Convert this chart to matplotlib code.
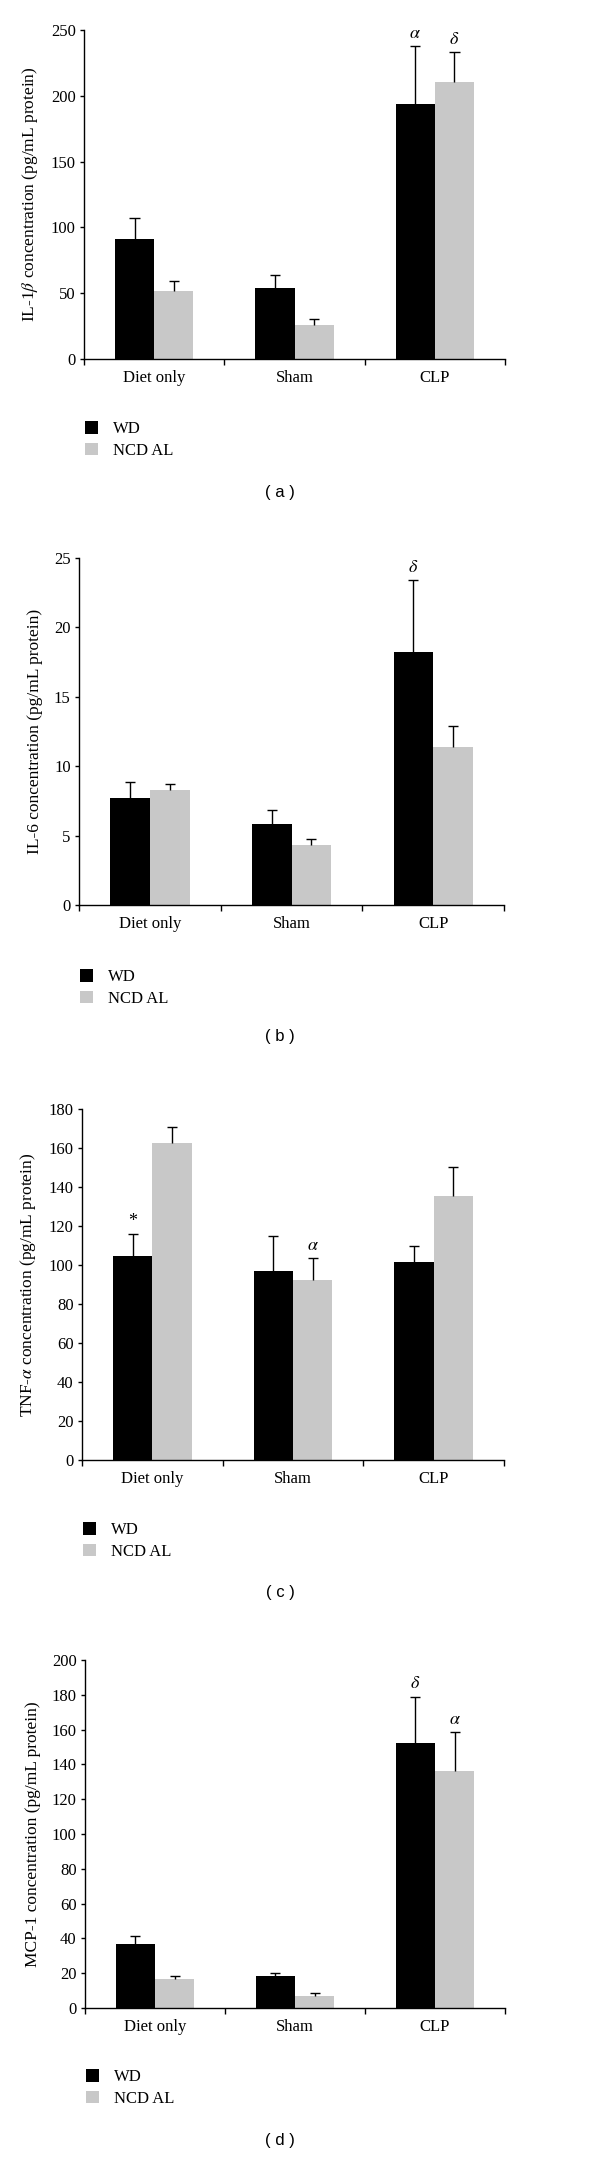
import matplotlib
matplotlib.use("Agg")
import matplotlib.pyplot as plt
import numpy as np

plt.rcParams['font.family'] = ['Liberation Serif', 'DejaVu Serif']
plt.rcParams['mathtext.fontset'] = 'stix'

groups = ["Diet only", "Sham", "CLP"]
series = ["WD", "NCD AL"]
colors = ["#000000", "#c8c8c8"]

# panel (a) IL-1beta
il1b_wd = [91, 54, 194]
il1b_wd_err = [16, 9.5, 44]
il1b_ncd = [51.5, 26, 210.5]
il1b_ncd_err = [7.5, 4.5, 23]

# panel (b) IL-6
il6_wd = [7.7, 5.85, 18.25]
il6_wd_err = [1.15, 0.98, 5.15]
il6_ncd = [8.25, 4.3, 11.4]
il6_ncd_err = [0.45, 0.46, 1.5]

# panel (c) TNF-alpha
tnf_wd = [104.5, 96.8, 101.3]
tnf_wd_err = [11.5, 18.2, 8.5]
tnf_ncd = [162.6, 92.2, 135.2]
tnf_ncd_err = [8.4, 11.5, 14.9]

# panel (d) MCP-1
mcp_wd = [36.8, 18.4, 152.5]
mcp_wd_err = [4.4, 1.8, 26.5]
mcp_ncd = [16.8, 7.1, 136.2]
mcp_ncd_err = [1.8, 1.3, 22.6]

panels = [
    dict(wd=il1b_wd, wde=il1b_wd_err, ncd=il1b_ncd, ncde=il1b_ncd_err,
         ymax=250, step=50, ylabel="IL-1$\\beta$ concentration (pg/mL protein)",
         marks=[(2, 0, "$\\alpha$"), (2, 1, "$\\delta$")],
         box=(84, 505, 30, 359), leg=417, cap="( a )", capy=492),
    dict(wd=il6_wd, wde=il6_wd_err, ncd=il6_ncd, ncde=il6_ncd_err,
         ymax=25, step=5, ylabel="IL-6 concentration (pg/mL protein)",
         marks=[(2, 0, "$\\delta$")],
         box=(79, 504, 14, 361), leg=421, cap="( b )", capy=493),
    dict(wd=tnf_wd, wde=tnf_wd_err, ncd=tnf_ncd, ncde=tnf_ncd_err,
         ymax=180, step=20, ylabel="TNF-$\\alpha$ concentration (pg/mL protein)",
         marks=[(0, 0, "*"), (1, 1, "$\\alpha$")],
         box=(82, 504, 21, 372), leg=430, cap="( c )", capy=505),
    dict(wd=mcp_wd, wde=mcp_wd_err, ncd=mcp_ncd, ncde=mcp_ncd_err,
         ymax=200, step=20, ylabel="MCP-1 concentration (pg/mL protein)",
         marks=[(2, 0, "$\\delta$"), (2, 1, "$\\alpha$")],
         box=(85, 505, 28, 376), leg=433, cap="( d )", capy=508),
]

W, H = 600, 2176
fig = plt.figure(figsize=(W / 100, H / 100), dpi=100)

x = np.arange(len(groups))
bw = 0.28
cap = 0.036

for i, p in enumerate(panels):
    off = 544 * i
    l, r, t, b = p["box"]
    ax = fig.add_axes([l / W, 1 - (off + b) / H, (r - l) / W, (b - t) / H])
    handles = []
    for k, (vals, errs) in enumerate([(p["wd"], p["wde"]), (p["ncd"], p["ncde"])]):
        xs = x + (k - 0.5) * bw
        h = ax.bar(xs, vals, bw, color=colors[k], label=series[k], zorder=2)
        handles.append(h)
        tops = np.array(vals) + np.array(errs)
        ax.vlines(xs, vals, tops, color="black", lw=1.0, zorder=3)
        ax.hlines(tops, xs - cap, xs + cap, color="black", lw=1.0, zorder=3)
        for (g, s, txt) in p["marks"]:
            if s == k:
                ax.annotate(txt, (xs[g], tops[g]), xytext=(0, 3), textcoords="offset points",
                            ha="center", va="bottom", fontsize=13)
    ax.set_xlim(-0.5, 2.5)
    ax.set_ylim(0, p["ymax"])
    ax.set_yticks(np.arange(0, p["ymax"] + 1, p["step"]))
    ax.set_xticks([-0.5, 0.5, 1.5, 2.5])
    ax.set_xticklabels([])
    ax.set_xticks(x, minor=True)
    ax.set_xticklabels(groups, minor=True)
    ax.tick_params(axis="x", which="major", direction="out", length=4, width=1)
    ax.tick_params(axis="x", which="minor", length=0, pad=8, labelsize=12)
    ax.tick_params(axis="y", direction="out", length=3, width=1, labelsize=12, pad=3)
    ax.spines["top"].set_visible(False)
    ax.spines["right"].set_visible(False)
    ax.spines["left"].set_linewidth(1)
    ax.spines["bottom"].set_linewidth(1)
    ax.set_ylabel(p["ylabel"], fontsize=12.5, labelpad=8)

    fig.legend(handles=handles, labels=series, loc="upper left",
               bbox_to_anchor=(l / W - 0.012, 1 - (off + p["leg"] - 4) / H),
               frameon=False, fontsize=12, handlelength=0.75, handleheight=0.75,
               handletextpad=0.9, labelspacing=0.35, borderpad=0)
    fig.text(280 / W, 1 - (off + p["capy"]) / H, p["cap"], ha="center", va="center",
             fontsize=12, family="Liberation Sans")

fig.savefig("out.png", dpi=100, facecolor="white")
